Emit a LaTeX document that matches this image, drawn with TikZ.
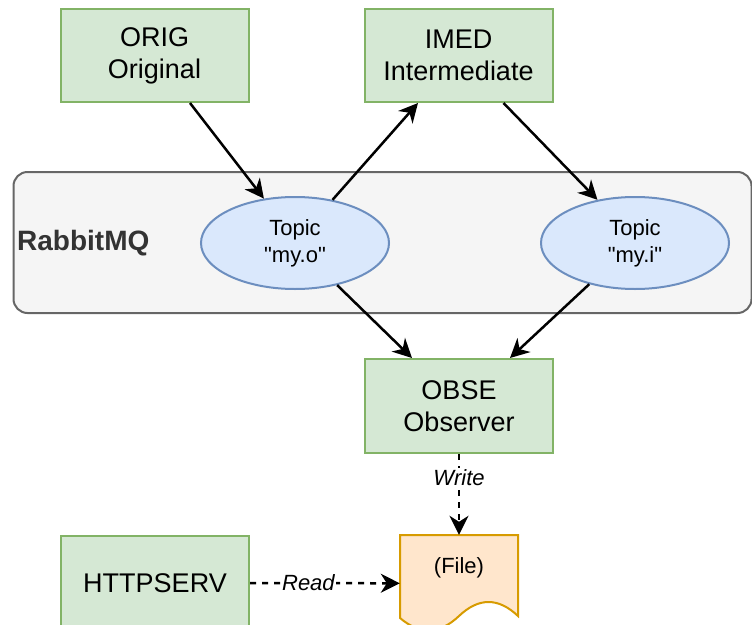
\documentclass[tikz,border=0pt]{standalone}
\usepackage{fontspec}
\setmainfont{Liberation Sans}[Ligatures=TeXOff]
\usetikzlibrary{arrows.meta,shapes.geometric}
\definecolor{gfill}{HTML}{D5E8D4}
\definecolor{gline}{HTML}{82B366}
\definecolor{bfill}{HTML}{DAE8FC}
\definecolor{bline}{HTML}{6C8EBF}
\definecolor{cfill}{HTML}{F5F5F5}
\definecolor{cline}{HTML}{666666}
\definecolor{ctext}{HTML}{333333}
\definecolor{ofill}{HTML}{FFE6CC}
\definecolor{oline}{HTML}{D79B00}
\begin{document}
\begin{tikzpicture}[x=1pt,y=-1pt,
  box/.style={draw=gline,fill=gfill,line width=2pt,minimum width=188pt,minimum height=93pt,inner sep=0pt,align=center,font=\fontsize{27}{32}\selectfont},
  topic/.style={ellipse,draw=bline,fill=bfill,line width=2pt,minimum width=188pt,minimum height=92pt,inner sep=0pt,align=center,font=\fontsize{22}{27}\selectfont},
  conn/.style={line width=2.5pt,-{Stealth[length=19pt,width=19pt,inset=6pt]}},
  dconn/.style={conn,dash pattern=on 6pt off 6pt},
  lbl/.style={fill=white,inner sep=1pt,font=\fontsize{22}{26}\selectfont\itshape}]
\useasboundingbox (0,0) rectangle (752,624);
\clip (0,0) rectangle (752,624);
% container
\node (rmq) [draw=cline,fill=cfill,rounded corners=14pt,line width=2pt,minimum width=738pt,minimum height=141pt,inner sep=0pt] at (382.5,242.5) {};
\node (rmqlabel) [anchor=west,inner sep=0pt,text=ctext,font=\fontsize{28}{32}\selectfont\bfseries] at (17,243) {RabbitMQ};
% boxes
\node (orig) [box] at (154.5,55.5) {ORIG\\Original};
\node (imed) [box] at (458.5,55.5) {IMED\\Intermediate};
\node (obse) [box,minimum height=94pt] at (459,406) {OBSE\\Observer};
\node (http) [box,minimum height=94pt] at (155,583) {HTTPSERV};
% topics
\node (t1) [topic] at (295,243) {Topic\\"my.o"};
\node (t2) [topic] at (635,243) {Topic\\"my.i"};
% file
\node (file) [minimum width=118pt,minimum height=96.6pt,inner sep=0pt] at (459,583.3) {};
\draw[draw=oline,fill=ofill,line width=2pt] (400,535) -- (518,535) -- (518,616)
  .. controls (498.33,597.33) and (478.67,597.33) .. (459,616)
  .. controls (439.33,634.67) and (419.67,634.67) .. (400,618) -- cycle;
\node (filetxt) [font=\fontsize{22}{26}\selectfont] at (459,568) {(File)};
% connectors
\draw[conn] ([xshift=35.5pt]orig.south) -- (t1.125);
\draw[conn] (t1.49) -- ([xshift=-40.5pt]imed.south);
\draw[conn] ([xshift=45pt]imed.south) -- (t2.131);
\draw[conn] (t1.-45) -- ([xshift=-47pt]obse.north);
\draw[conn] (t2.222) -- ([xshift=51pt]obse.north);
\draw[dconn] (obse.south) -- node[lbl,pos=0.29] {Write} (file.north);
\draw[dconn] (http.east) -- node[lbl,pos=0.39] {Read} (file.west);
\end{tikzpicture}
\end{document}
